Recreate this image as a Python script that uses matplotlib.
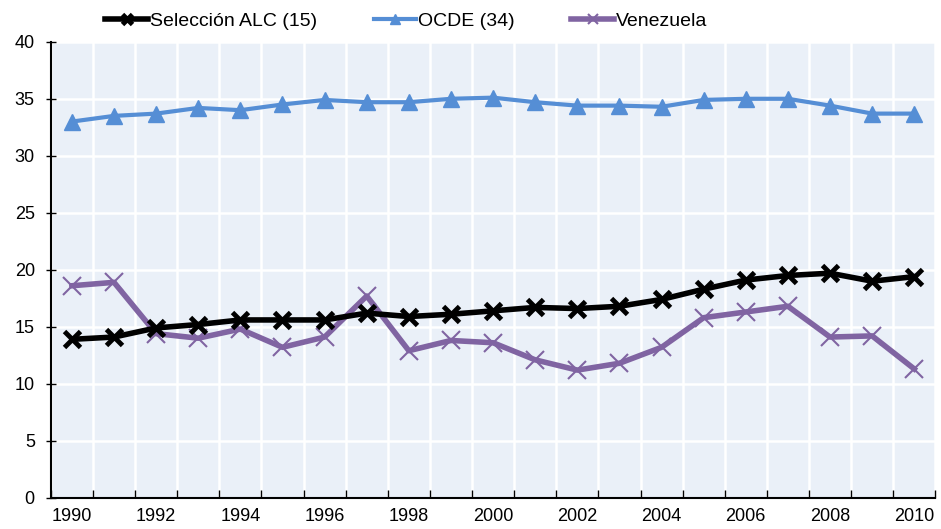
import matplotlib
matplotlib.use("Agg")
import numpy as np
from matplotlib import pyplot as plt
from matplotlib.ticker import FixedLocator, NullFormatter

plt.rcParams["font.family"] = ["Liberation Sans", "DejaVu Sans"]

years = list(range(1990, 2011))
alc = [13.9, 14.1, 14.9, 15.2, 15.6, 15.6, 15.6, 16.2, 15.9, 16.1, 16.4,
       16.7, 16.6, 16.8, 17.4, 18.3, 19.1, 19.5, 19.7, 19.0, 19.4]
ocde = [33.0, 33.5, 33.7, 34.2, 34.0, 34.5, 34.9, 34.7, 34.7, 35.0, 35.1,
        34.7, 34.4, 34.4, 34.3, 34.9, 35.0, 35.0, 34.4, 33.7, 33.7]
venezuela = [18.6, 18.9, 14.4, 14.0, 14.8, 13.2, 14.1, 17.7, 12.9, 13.8, 13.6,
             12.1, 11.2, 11.8, 13.2, 15.8, 16.3, 16.8, 14.1, 14.2, 11.3]

fig = plt.figure(figsize=(9.41, 5.29), dpi=100)
ax = fig.add_axes([0.054, 0.059, 0.94, 0.862])
ax.set_facecolor("#EAF0F8")

ax.plot(years, alc, color="black", lw=4, marker="x", ms=12, mew=3.5,
        label="Selección ALC (15)", zorder=4)
ax.plot(years, ocde, color="#558ED5", lw=3, marker="^", ms=11,
        label="OCDE (34)", zorder=3)
ax.plot(years, venezuela, color="#8064A2", lw=4, marker="x", ms=13, mew=1.5,
        label="Venezuela", zorder=3)

ax.set_xlim(1989.5, 2010.5)
ax.set_ylim(0, 40)
ax.set_yticks(np.arange(0, 41, 5))
ax.xaxis.set_major_locator(FixedLocator(np.arange(1989.5, 2011, 1)))
ax.xaxis.set_major_formatter(NullFormatter())
ax.xaxis.set_minor_locator(FixedLocator(years[::2]))
ax.set_xticklabels([str(y) for y in years[::2]], minor=True)
ax.tick_params(axis="x", which="major", direction="in", length=6, width=1)
ax.tick_params(axis="x", which="minor", length=0, labelsize=13, pad=7)
ax.tick_params(axis="y", direction="inout", length=7, width=1, labelsize=13, pad=8)

ax.grid(True, which="major", color="white", lw=1.8)
ax.set_axisbelow(True)
for s in ["top", "right"]:
    ax.spines[s].set_visible(False)
for s in ["left", "bottom"]:
    ax.spines[s].set_color("black")
    ax.spines[s].set_linewidth(1.5)

fig.legend(loc="upper center", bbox_to_anchor=(0.432, 1.01), ncol=3,
           frameon=False, fontsize=14, handlelength=2.2, handletextpad=0.1,
           columnspacing=2.9, markerscale=0.6)

fig.savefig("out.png", dpi=100)
